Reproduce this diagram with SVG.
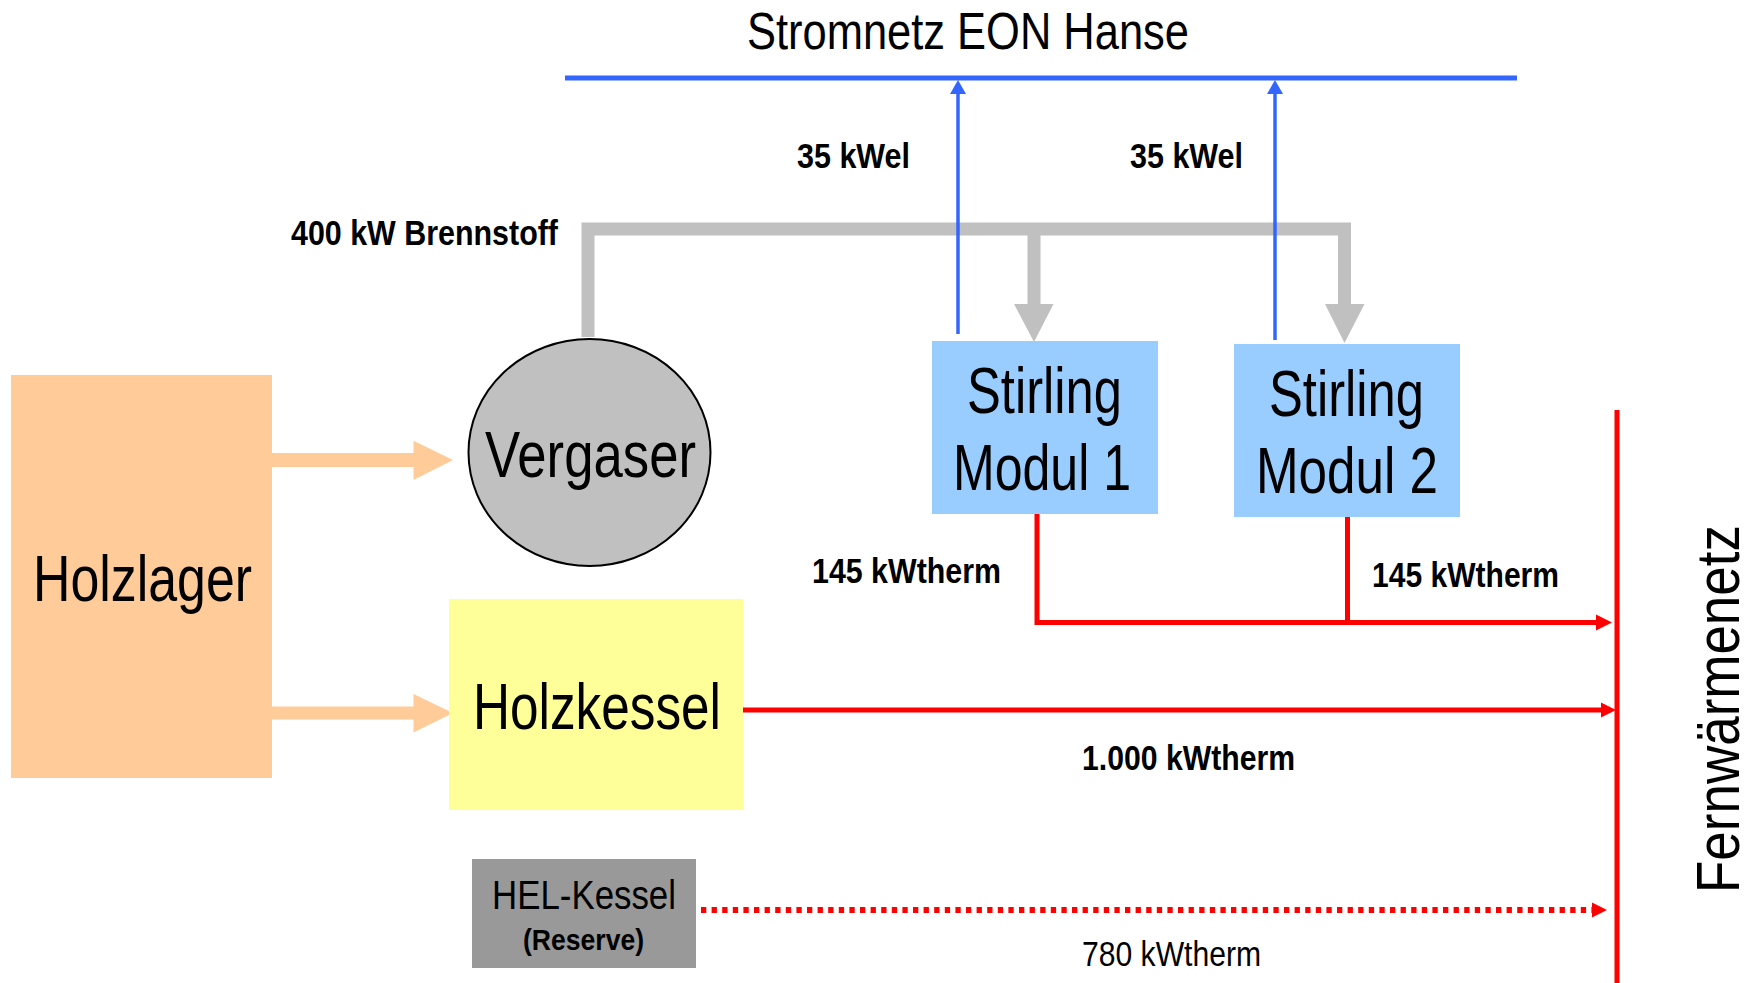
<svg xmlns="http://www.w3.org/2000/svg" width="1761" height="983" viewBox="0 0 1761 983">
  <style>
    text { font-family: "Liberation Sans Narrow", "Liberation Sans", Arial, sans-serif; fill: #000; }
    .big { font-size: 64px; }
    .lbl { font-size: 35px; font-weight: bold; }
    .pipe { fill: none; stroke: #C0C0C0; stroke-width: 13; stroke-linejoin: miter; }
    .el { fill: none; stroke: #3366FF; stroke-width: 3.5; }
    .heat { fill: none; stroke: #FF0000; stroke-width: 5; }
    .feed { fill: #FFCC99; }
  </style>

  <!-- power grid bus -->
  <g id="stromnetz">
    <line x1="565" y1="78" x2="1517" y2="78" stroke="#3366FF" stroke-width="5"/>
    <text x="747" y="49" font-size="52" textLength="442" lengthAdjust="spacingAndGlyphs">Stromnetz EON Hanse</text>
  </g>

  <!-- district heating main -->
  <g id="fernwaermenetz">
    <line x1="1617" y1="410" x2="1617" y2="983" stroke="#FF0000" stroke-width="5"/>
    <text transform="translate(1739,893) rotate(-90)" font-size="62" textLength="368" lengthAdjust="spacingAndGlyphs">Fernwärmenetz</text>
  </g>

  <g id="connectors">
    <!-- wood feed -->
    <rect class="feed" x="272" y="453" width="142" height="14"/>
    <polygon class="feed" points="413.5,440.7 453,460 413.5,480"/>
    <rect class="feed" x="272" y="706.5" width="142" height="13"/>
    <polygon class="feed" points="413.5,694 453,713 413.5,732.5"/>

    <!-- fuel gas pipe -->
    <path class="pipe" d="M588,337 V229 H1344.5 V305"/>
    <path class="pipe" d="M1034,229 V305"/>
    <polygon fill="#C0C0C0" points="1014,304 1053.5,304 1034,342"/>
    <polygon fill="#C0C0C0" points="1325,304 1364.5,304 1344.5,343"/>

    <!-- electric output -->
    <path class="el" d="M958,334 V92"/>
    <polygon fill="#3366FF" points="950,94 966,94 958,80"/>
    <path class="el" d="M1275,340 V92"/>
    <polygon fill="#3366FF" points="1267,94 1283,94 1275,80"/>

    <!-- heat output -->
    <path class="heat" d="M1037,514 V622.5 H1598"/>
    <path class="heat" d="M1347.5,517 V622.5"/>
    <polygon fill="#FF0000" points="1596,614.5 1612,622.5 1596,630.5"/>
    <path class="heat" d="M742,710 H1603"/>
    <polygon fill="#FF0000" points="1601,702.5 1616,710 1601,717.5"/>
    <path d="M701,910 H1592" fill="none" stroke="#FF0000" stroke-width="6" stroke-dasharray="5.3 5.3"/>
    <polygon fill="#FF0000" points="1592,902.5 1607,910 1592,917.5"/>
  </g>

  <g id="labels">
    <text class="lbl" x="291" y="245" font-size="32" textLength="267" lengthAdjust="spacingAndGlyphs">400 kW Brennstoff</text>
    <text class="lbl" x="797" y="168" textLength="113" lengthAdjust="spacingAndGlyphs">35 kWel</text>
    <text class="lbl" x="1130" y="168" textLength="113" lengthAdjust="spacingAndGlyphs">35 kWel</text>
    <text class="lbl" x="812" y="583" textLength="189" lengthAdjust="spacingAndGlyphs">145 kWtherm</text>
    <text class="lbl" x="1372" y="587" textLength="187" lengthAdjust="spacingAndGlyphs">145 kWtherm</text>
    <text class="lbl" x="1082" y="770" textLength="213" lengthAdjust="spacingAndGlyphs">1.000 kWtherm</text>
    <text x="1082" y="966" font-size="35" textLength="179" lengthAdjust="spacingAndGlyphs">780 kWtherm</text>
  </g>

  <g id="holzlager">
    <rect x="11" y="375" width="261" height="403" fill="#FFCC99"/>
    <text class="big" x="33" y="601" textLength="219" lengthAdjust="spacingAndGlyphs">Holzlager</text>
  </g>

  <g id="vergaser">
    <ellipse cx="589.5" cy="452.5" rx="121" ry="113.5" fill="#C0C0C0" stroke="#000" stroke-width="2"/>
    <text class="big" x="485" y="477" textLength="211" lengthAdjust="spacingAndGlyphs">Vergaser</text>
  </g>

  <g id="holzkessel">
    <rect x="449" y="599" width="294" height="211" fill="#FFFF99"/>
    <text class="big" x="473" y="729" textLength="248" lengthAdjust="spacingAndGlyphs">Holzkessel</text>
  </g>

  <g id="stirling1">
    <rect x="932" y="341" width="226" height="173" fill="#99CCFF"/>
    <text class="big" x="967" y="413" textLength="155" lengthAdjust="spacingAndGlyphs">Stirling</text>
    <text class="big" x="953" y="490" textLength="178" lengthAdjust="spacingAndGlyphs">Modul 1</text>
  </g>

  <g id="stirling2">
    <rect x="1234" y="344" width="226" height="173" fill="#99CCFF"/>
    <text class="big" x="1269" y="416" textLength="155" lengthAdjust="spacingAndGlyphs">Stirling</text>
    <text class="big" x="1256" y="493" textLength="182" lengthAdjust="spacingAndGlyphs">Modul 2</text>
  </g>

  <g id="hel-kessel">
    <rect x="472" y="859" width="224" height="109" fill="#999999"/>
    <text x="492" y="909" font-size="41" textLength="184" lengthAdjust="spacingAndGlyphs">HEL-Kessel</text>
    <text x="523" y="950" font-size="30" font-weight="bold" textLength="121" lengthAdjust="spacingAndGlyphs">(Reserve)</text>
  </g>
</svg>
